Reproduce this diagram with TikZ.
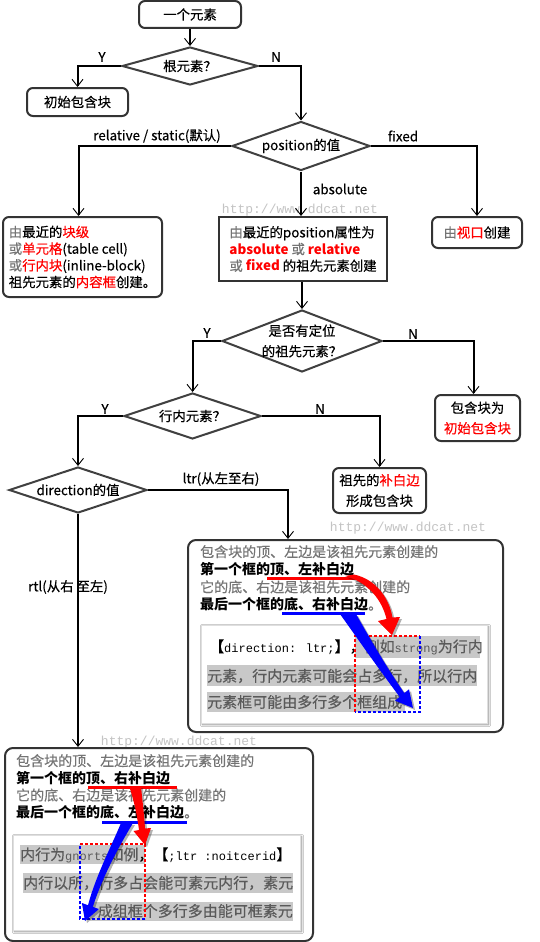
\documentclass[tikz,border=0pt]{standalone}
\usepackage{fontspec}
\setmainfont{Noto Sans CJK SC}[UprightFeatures={FakeBold=0.35}]
\newfontfamily\monofam{Liberation Mono}
\usetikzlibrary{shapes.geometric,arrows.meta,shadows.blur,calc}
\definecolor{myred}{HTML}{FF0000}
\definecolor{myblue}{HTML}{0000FF}
\definecolor{tgray}{HTML}{747474}
\definecolor{bd}{HTML}{333333}
\definecolor{dg}{HTML}{404040}
\definecolor{hl}{HTML}{C8C8C8}
\definecolor{htext}{HTML}{5A5A5A}
\definecolor{wmc}{HTML}{C4C4C4}
\newcommand{\rtx}[1]{\textcolor{myred}{#1}}
\newcommand{\gtx}[1]{\textcolor{tgray}{#1}}
\newcommand{\monotxt}[1]{{\monofam\fontsize{12}{12}\selectfont #1}}
\begin{document}
\begin{tikzpicture}[x=1pt,y=-1pt,
  fs/.style={font=\fontsize{13.4}{16.7}\selectfont},
  fsw/.style={font=\fontsize{13.4}{20.5}\selectfont},
  box/.style={draw=bd, line width=2pt, rounded corners=6pt, fill=white, inner sep=0pt, fs, align=center},
  dia/.style={diamond, draw=dg, line width=2pt, fill=white, inner sep=0pt},
  dlab/.style={fs, align=center},
  conn/.style={line width=2pt, -{Straight Barb[length=7pt,width=11pt,line width=0.9pt]}},
  lbl/.style={fs, inner sep=0pt},
  wm/.style={font=\monofam\fontsize{13}{13}\selectfont, text=wmc, inner sep=0pt},
  inner/.style={draw=gray!25, line width=0.4pt, fill=white, inner sep=0pt,
     blur shadow={shadow blur steps=6, shadow xshift=1.5pt, shadow yshift=-1.5pt, shadow opacity=45}},
  itext/.style={inner sep=0pt, font=\fontsize{15}{15}\selectfont},
  btext/.style={anchor=north west, inner sep=0pt, align=left, font=\fontsize{14}{17.6}\selectfont},
  hlfill/.style={fill=hl},
  rdash/.style={draw=myred, line width=1.5pt, dash pattern=on 3pt off 2pt},
  bdash/.style={draw=myblue, line width=1.5pt, dash pattern=on 3pt off 2pt},
  ashadow/.style={fill=black, opacity=0.3, shift={(2,2)}},
  arrA/.style={insert path={(345,576) .. controls (368,582) and (382,600) .. (386.5,619) -- (378,621) -- (392,635) -- (400,617) -- (392.5,617.5) .. controls (389,597) and (375,579) .. (354,574.5) -- cycle}},
  arrB/.style={insert path={(340,614) .. controls (355,635) and (378,668) .. (399.7,696.9) -- (395,700.7) -- (413,708) -- (409,689.3) -- (404.3,693.1) .. controls (385,665) and (368,635) .. (356,614) -- cycle}},
  arrC/.style={insert path={(129,786) .. controls (134,800) and (137,815) .. (139,830) -- (133.5,831) -- (145,845) -- (151,828) -- (145,828.5) .. controls (144,812) and (142,798) .. (141,786) -- cycle}},
  arrD/.style={insert path={(121,823) .. controls (112,845) and (96,875) .. (88,905.2) -- (81.9,903) -- (85,921) -- (98.9,909) -- (92.8,906.9) .. controls (102,878) and (118,848) .. (133,823) -- cycle}}
]
\useasboundingbox (0,0) rectangle (539,942);
\fill[white] (0,0) rectangle (539,942);

% watermarks
\node[wm] (wm1) at (300,210) {http://www.ddcat.net};
\node[wm] (wm2) at (408,528) {http://www.ddcat.net};
\node[wm] (wm3) at (179,742) {http://www.ddcat.net};

% nodes
\node[box, minimum width=102pt, minimum height=27pt] (start) at (190,14.5) {一个元素};
\node[dia, minimum width=136pt, minimum height=38pt, label={[dlab]center:根元素？}] (d1) at (190,66) {};
\node[box, minimum width=101pt, minimum height=28pt] (b1) at (77.5,102) {初始包含块};
\node[dia, minimum width=138pt, minimum height=49pt, label={[dlab]center:position的值}] (d2) at (301,146) {};
\node[box, minimum width=159pt, minimum height=80pt, align=left] (b2) at (82.5,257)
  {\gtx{由}最近的\rtx{块级}\\\gtx{或}\rtx{单元格}(table cell)\\\gtx{或}\rtx{行内块}(inline-block)\\祖先元素的\rtx{内容框}创建。};
\node[box, minimum width=90pt, minimum height=31pt] (b3) at (477,232.5) {\gtx{由}\rtx{视口}创建};
\node[box, rounded corners=0pt, minimum width=168pt, minimum height=64pt, align=left] (b4) at (303,249)
  {\gtx{由}最近的position属性为\\\rtx{\bfseries absolute} \gtx{或} \rtx{\bfseries relative}\\\gtx{或} \rtx{\bfseries fixed} 的祖先元素创建};
\node[dia, minimum width=160pt, minimum height=62pt, label={[fsw, align=center]center:是否有定位\\的祖先元素？}] (d3) at (302,341) {};
\node[box, fsw, minimum width=85pt, minimum height=46pt] (b5) at (477.5,418) {包含块为\\\rtx{初始包含块}};
\node[dia, minimum width=137pt, minimum height=46pt, label={[dlab]center:行内元素？}] (d4) at (192.5,416) {};
\node[box, fsw, minimum width=93pt, minimum height=45pt] (b6) at (379.5,490.5) {祖先的\rtx{补白边}\\形成包含块};
\node[dia, minimum width=138pt, minimum height=46pt, label={[dlab]center:direction的值}] (d5) at (78,490) {};
\node[box, rounded corners=8pt, minimum width=315pt, minimum height=192pt] (b7) at (345.5,636) {};
\node[box, rounded corners=8pt, minimum width=308pt, minimum height=193pt] (b8) at (159,844.5) {};

% connectors
\draw[conn] (start) -- (d1);
\draw[conn] (d1.west) -| (b1.north);
\draw[conn] (d1.east) -| (d2.north);
\draw[conn] (d2.west) -| ($(b2.north)+(-4,0)$);
\draw[conn] (d2.east) -| (b3.north);
\draw[conn] (d2.south) -- (d2.south |- b4.north);
\draw[conn] (d3.north |- b4.south) -- (d3.north);
\draw[conn] (d3.west) -| (d4.north);
\draw[conn] (d3.east) -| ($(b5.north)+(-4,0)$);
\draw[conn] (d4.west) -| (d5.north);
\draw[conn] (d4.east) -| (b6.north);
\draw[conn] (d5.east) -| ($(b7.north)+(-57.5,0)$);
\draw[conn] (d5.south) -- (d5.south |- b8.north);

% edge labels
\node[lbl] (ly1) at (102,57) {Y};
\node[lbl] (ln1) at (276,57) {N};
\node[lbl] (lrs) at (157,136) {relative / static(默认)};
\node[lbl] (lfx) at (403,136) {fixed};
\node[lbl] (labs) at (340,189) {absolute};
\node[lbl] (ly3) at (207,333) {Y};
\node[lbl] (ln3) at (413,334) {N};
\node[lbl] (ly4) at (105,409) {Y};
\node[lbl] (ln4) at (320,409) {N};
\node[lbl] (lltr) at (221,479) {ltr(从左至右)};
\node[lbl, anchor=west] (lrtl) at (28,587) {rtl(从右\hspace{3pt}至左)};

% ltr box content
\node[btext] (t7) at (200,545) {\gtx{包含块的顶、左边是该祖先元素创建的}\\{\bfseries 第一个框的顶、左补白边}\\\gtx{它的底、右边是该祖先元素创建的}\\{\bfseries 最后一个框的底、右补白边}\gtx{。}};
\node[inner, minimum width=286pt, minimum height=98pt] (b7i) at (344,674) {};
\fill[hlfill] (355,636) rectangle (480,658);
\fill[hlfill] (207,665) rectangle (477,686);
\fill[hlfill] (207,692) rectangle (405,712);
\node[itext, anchor=west] (t7a) at (209,647) {【\monotxt{direction: ltr;}】，\textcolor{htext}{例如\monotxt{strong}为行内}};
\node[itext, anchor=west] (t7b) at (207,676) {\textcolor{htext}{元素，行内元素可能会占多行，所以行内}};
\node[itext, anchor=west] (t7c) at (207,702) {\textcolor{htext}{元素框可能由多行多个框组成}};
\draw[rdash] (355,712) -- (355,636) -- (420,636);
\draw[bdash] (420,636) -- (420,712) -- (355,712);
\draw[myred, line width=3pt] (267,578) -- (357,578);
\draw[myblue, line width=3pt] (282,613) -- (365,613);
\fill[ashadow, arrA];
\fill[myred, arrA];
\fill[ashadow, arrB];
\fill[myblue, arrB];

% rtl box content
\node[btext, font=\fontsize{14}{17.2}\selectfont] (t8) at (16,754) {\gtx{包含块的顶、左边是该祖先元素创建的}\\{\bfseries 第一个框的顶、右补白边}\\\gtx{它的底、右边是该祖先元素创建的}\\{\bfseries 最后一个框的底、左补白边}\gtx{。}};
\node[inner, minimum width=287pt, minimum height=95pt] (b8i) at (156.5,882.5) {};
\fill[hlfill] (20,845) rectangle (145,864);
\fill[hlfill] (23,873) rectangle (293,893);
\fill[hlfill] (90,902) rectangle (293,921);
\node[itext, anchor=west] (t8a) at (20,855) {\textcolor{htext}{内行为\monotxt{gnorts}如例}，【\monotxt{;ltr :noitcerid}】};
\node[itext, anchor=west] (t8b) at (23,883) {\textcolor{htext}{内行以所，行多占会能可素元内行，素元}};
\node[itext, anchor=east] (t8c) at (293,911) {\textcolor{htext}{成组框个多行多由能可框素元}};
\draw[rdash] (80,844) -- (145,844) -- (145,919);
\draw[bdash] (145,919) -- (80,919) -- (80,844);
\draw[myred, line width=3pt] (88,787) -- (177,787);
\draw[myblue, line width=3pt] (102,822) -- (187,822);
\fill[ashadow, arrC];
\fill[myred, arrC];
\fill[ashadow, arrD];
\fill[myblue, arrD];
\end{tikzpicture}
\end{document}
